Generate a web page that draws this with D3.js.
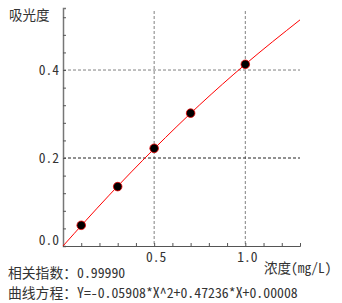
<!DOCTYPE html>
<html>
<head>
<meta charset="utf-8">
<script src="https://cdn.jsdelivr.net/npm/d3@7"></script>
<style>
  body { margin: 0; background: #fff; }
  text { font-family: "Noto Sans Mono CJK SC", "Liberation Mono", "Noto Sans CJK SC", monospace; fill: #333; }
</style>
</head>
<body>
<script>
// measured points (concentration mg/L, absorbance)
const concs = [0.1, 0.3, 0.5, 0.7, 1.0];
const absorb = [0.047, 0.135, 0.222, 0.302, 0.413];

// fitted curve
const curveX = [0, 0.25, 0.5, 0.75, 1.0, 1.3];
const curveY = [0, 0.114, 0.221, 0.321, 0.413, 0.514];

const yTicks = [0.0, 0.2, 0.4];
const xTicks = [0.5, 1.0];
const yTitle = '吸光度';
const xTitle = '浓度(mg/L)';
const corrText = '相关指数：0.99990';
const eqText = '曲线方程：Y=-0.05908*X^2+0.47236*X+0.00008';

const width = 342, height = 303;
const svg = d3.select('body').append('svg')
  .attr('width', width)
  .attr('height', height);

const x = d3.scaleLinear().domain([0, 1.3]).range([63, 300]);
const y = d3.scaleLinear().domain([0, 0.541]).range([246, 8]);

// grid
svg.selectAll('.vgrid').data(xTicks).enter().append('line')
  .attr('x1', d => x(d)).attr('x2', d => x(d))
  .attr('y1', y.range()[1] + 3).attr('y2', y(0))
  .attr('stroke', '#808080').attr('stroke-dasharray', '3,2');

svg.selectAll('.hgrid').data(yTicks.slice(1)).enter().append('line')
  .attr('x1', x(0)).attr('x2', x.range()[1])
  .attr('y1', d => y(d)).attr('y2', d => y(d))
  .attr('stroke', d => d === 0.2 ? '#222' : '#808080')
  .attr('stroke-dasharray', '3,2');

// axes with inward ticks
const xAxis = svg.append('g').attr('transform', `translate(0,${y(0)})`)
  .call(d3.axisTop(x).tickValues(d3.range(1, 13).map(i => i / 10)).tickSize(3).tickFormat(''));
xAxis.select('.domain').attr('stroke', '#555');
xAxis.selectAll('.tick line').attr('stroke', '#555');

const yAxis = svg.append('g').attr('transform', `translate(${x(0)},0)`)
  .call(d3.axisRight(y).tickValues(d3.range(0, 14).map(i => i * 0.04)).tickSize(3).tickFormat(''));
yAxis.select('.domain').attr('stroke', '#777').attr('stroke-width', 1.5);
yAxis.selectAll('.tick line').attr('stroke', '#555');

// tick labels
svg.selectAll('.ylab').data(yTicks).enter().append('text')
  .attr('x', x(0) - 4)
  .attr('y', d => d === 0 ? y(d) - 6 : y(d))
  .attr('dy', '0.35em')
  .attr('text-anchor', 'end')
  .style('font-size', '13.5px')
  .text(d => d.toFixed(1));

svg.selectAll('.xlab').data(xTicks).enter().append('text')
  .attr('x', d => x(d) + 2)
  .attr('y', y(0) + 16)
  .attr('text-anchor', 'middle')
  .style('font-size', '13.5px')
  .text(d => d.toFixed(1));

svg.append('text').attr('x', 9).attr('y', 20).style('font-size', '13.5px').text(yTitle);
svg.append('text').attr('x', 264).attr('y', 273).style('font-size', '13.5px').text(xTitle);
svg.append('text').attr('x', 8).attr('y', 278).style('font-size', '13.8px').text(corrText);
svg.append('text').attr('x', 8).attr('y', 298).style('font-size', '13.8px').text(eqText);

// curve
const line = d3.line().x(d => x(d[0])).y(d => y(d[1])).curve(d3.curveMonotoneX);
svg.append('path')
  .datum(d3.zip(curveX, curveY))
  .attr('d', line)
  .attr('fill', 'none')
  .attr('stroke', '#ff0000')
  .attr('stroke-width', 1);

// points
svg.selectAll('.pt').data(d3.zip(concs, absorb)).enter().append('circle')
  .attr('cx', d => x(d[0]))
  .attr('cy', d => y(d[1]))
  .attr('r', 4.3)
  .attr('fill', '#000')
  .attr('stroke', '#e00')
  .attr('stroke-width', 0.8);
</script>
</body>
</html>
